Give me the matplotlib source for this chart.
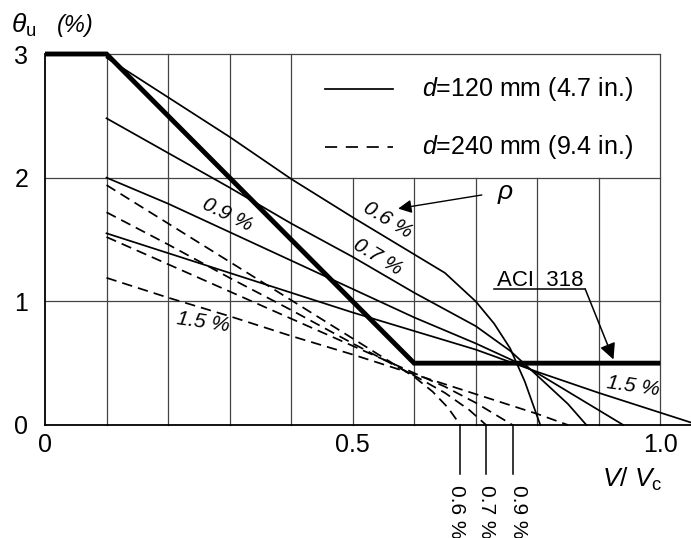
import matplotlib
matplotlib.use("Agg")
import matplotlib.pyplot as plt

plt.rcParams['font.family'] = ['Liberation Sans', 'DejaVu Sans']
plt.rcParams['mathtext.fontset'] = 'custom'
plt.rcParams['mathtext.rm'] = 'Liberation Sans'
plt.rcParams['mathtext.it'] = 'Liberation Sans:italic'

# ---- data ----
rho_labels = ['0.6 %', '0.7 %', '0.9 %', '1.5 %']

# d = 120 mm (solid)
s06_x = [0.1, 0.2, 0.3, 0.4, 0.5, 0.6, 0.65, 0.7, 0.73, 0.756, 0.78, 0.805]
s06_y = [2.97, 2.65, 2.33, 1.99, 1.68, 1.38, 1.23, 1.0, 0.82, 0.62, 0.35, 0.0]
s07_x = [0.1, 0.2, 0.3, 0.4, 0.5, 0.6, 0.7, 0.756, 0.8, 0.85, 0.88]
s07_y = [2.48, 2.2, 1.92, 1.63, 1.36, 1.07, 0.8, 0.6, 0.4, 0.17, 0.0]
s09_x = [0.1, 0.2, 0.3, 0.4, 0.5, 0.6, 0.7, 0.77, 0.8, 0.87, 0.94]
s09_y = [2.0, 1.79, 1.56, 1.33, 1.1, 0.87, 0.66, 0.5, 0.42, 0.21, 0.0]
s15_x = [0.1, 0.2, 0.3, 0.4, 0.5, 0.6, 0.7, 0.8, 0.9, 1.0, 1.05]
s15_y = [1.55, 1.39, 1.23, 1.07, 0.91, 0.76, 0.61, 0.43, 0.26, 0.1, 0.02]

# d = 240 mm (dashed)
d06_x = [0.1, 0.2, 0.3, 0.4, 0.5, 0.6, 0.63, 0.655, 0.675]
d06_y = [1.94, 1.63, 1.32, 1.01, 0.70, 0.39, 0.27, 0.14, 0.0]
d07_x = [0.1, 0.2, 0.3, 0.4, 0.5, 0.6, 0.65, 0.69, 0.717]
d07_y = [1.72, 1.46, 1.19, 0.93, 0.66, 0.40, 0.26, 0.12, 0.0]
d09_x = [0.1, 0.2, 0.3, 0.4, 0.5, 0.6, 0.65, 0.7, 0.76]
d09_y = [1.52, 1.30, 1.08, 0.86, 0.64, 0.42, 0.31, 0.18, 0.0]
d15_x = [0.1, 0.2, 0.3, 0.4, 0.5, 0.6, 0.7, 0.8, 0.85]
d15_y = [1.19, 1.03, 0.88, 0.72, 0.57, 0.41, 0.25, 0.09, 0.0]

# ACI 318
aci_x = [0.0, 0.1, 0.6, 1.0]
aci_y = [3.0, 3.0, 0.5, 0.5]

xtick_vals = [0.0, 0.5, 1.0]
xtick_labels = ['0', '0.5', '1.0']
ytick_vals = [0, 1, 2, 3]
ytick_labels = ['0', '1', '2', '3']
grid_x = [0.1, 0.2, 0.3, 0.4, 0.5, 0.6, 0.7, 0.8, 0.9, 1.0]
grid_y = [1, 2, 3]

legend_labels = [r'$d$=120 mm (4.7 in.)', r'$d$=240 mm (9.4 in.)']

# ---- figure ----
fig = plt.figure(figsize=(6.91, 5.38), dpi=100)
ax = fig.add_axes([45 / 691, (538 - 425) / 538, 646 / 691, 371 / 538])
ax.set_xlim(0, 1.05)
ax.set_ylim(0, 3)
for s in ax.spines.values():
    s.set_visible(False)

gc = '#444444'
# grid
for gx in grid_x:
    top = 2 if 0.45 < gx < 0.95 else 3
    ax.plot([gx, gx], [0, top], color=gc, lw=0.9, zorder=1, clip_on=False)
for gy in grid_y:
    ax.plot([0, 1.0], [gy, gy], color=gc, lw=0.9, zorder=1, clip_on=False)
ax.plot([0, 1.05], [0, 0], color='k', lw=1.3, zorder=2, clip_on=False)
ax.plot([0, 0], [0, 3], color='k', lw=1.3, zorder=2, clip_on=False)

lw = 1.25
for xs, ys in [(s06_x, s06_y), (s07_x, s07_y), (s09_x, s09_y), (s15_x, s15_y)]:
    ax.plot(xs, ys, color='k', lw=lw, zorder=3, clip_on=False)
for xs, ys in [(d06_x, d06_y), (d07_x, d07_y), (d09_x, d09_y), (d15_x, d15_y)]:
    ax.plot(xs, ys, color='k', lw=lw, ls=(0, (6, 3.5)), zorder=3, clip_on=False)

ax.plot(aci_x, aci_y, color='k', lw=3.5, zorder=4, clip_on=False,
        solid_capstyle='butt', solid_joinstyle='miter')

# ticks
ax.set_xticks(xtick_vals)
ax.set_xticklabels(xtick_labels, fontsize=18)
ax.set_yticks(ytick_vals)
ax.set_yticklabels(ytick_labels, fontsize=18)
ax.tick_params(length=0)
ax.tick_params(axis='x', pad=6)
ax.tick_params(axis='y', pad=12)

# axis titles
ax.text(-0.055, 3.23, r'$\theta_{\rm u}$', fontsize=19, ha='left', va='center',
        clip_on=False)
ax.text(0.02, 3.23, '(%)', fontsize=17, style='italic', ha='left', va='center',
        clip_on=False)
ax.text(0.955, -0.44, r'$V$/ $V_{\rm c}$', fontsize=19, ha='center', va='center',
        clip_on=False)

# legend (manual)
ax.plot([0.455, 0.566], [2.72, 2.72], color='k', lw=lw, clip_on=False)
ax.plot([0.455, 0.566], [2.25, 2.25], color='k', lw=lw, ls=(0, (7, 5)), clip_on=False)
ax.text(0.613, 2.72, legend_labels[0], fontsize=18, ha='left', va='center')
ax.text(0.613, 2.25, legend_labels[1], fontsize=18, ha='left', va='center')

# curve labels
lab_kw = dict(fontsize=15, style='italic', ha='center', va='center')
ax.text(0.557, 1.66, rho_labels[0], rotation=-31, **lab_kw)
ax.text(0.541, 1.36, rho_labels[1], rotation=-31, **lab_kw)
ax.text(0.296, 1.70, rho_labels[2], rotation=-26, **lab_kw)
ax.text(0.257, 0.83, rho_labels[3], rotation=-8, **lab_kw)
ax.text(0.956, 0.31, rho_labels[3], rotation=-8, **lab_kw)

# rho arrow
ax.annotate('', xy=(0.574, 1.75), xytext=(0.71, 1.86),
            arrowprops=dict(arrowstyle='-|>', color='k', lw=1.0, mutation_scale=20,
                            shrinkA=0, shrinkB=0))
ax.text(0.748, 1.87, r'$\rho$', fontsize=19, ha='center', va='center')

# ACI 318 label
ax.text(0.805, 1.17, 'ACI  318', fontsize=16, ha='center', va='center')
ax.plot([0.73, 0.878], [1.10, 1.10], color='k', lw=1.1)
ax.annotate('', xy=(0.924, 0.53), xytext=(0.878, 1.10),
            arrowprops=dict(arrowstyle='-|>', color='k', lw=1.1, mutation_scale=24,
                            shrinkA=0, shrinkB=0))

# bottom leader labels for dashed end points
leader_x = [d06_x[-1], d07_x[-1], d09_x[-1]]
for lx, lab, off in zip(leader_x, rho_labels[:3], [-0.006, 0.0, 0.01]):
    ax.plot([lx, lx], [0, -0.40], color='k', lw=1.1, clip_on=False)
    ax.text(lx + off, -0.70, lab, fontsize=15, rotation=270, ha='center', va='center',
            clip_on=False)

fig.savefig('out.png', dpi=100)
